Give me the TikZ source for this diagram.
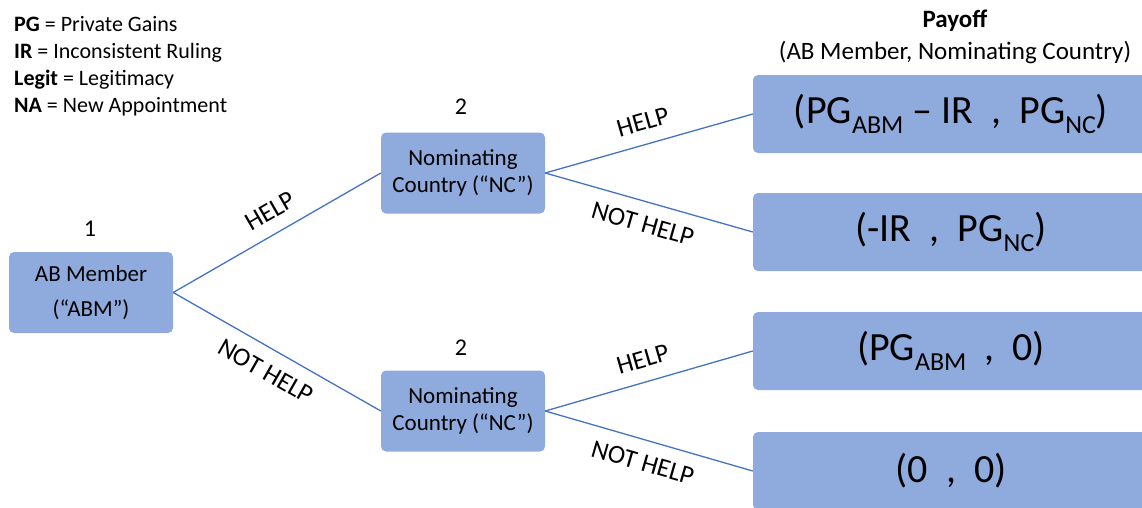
\documentclass[tikz,border=0pt]{standalone}
\usepackage{fontspec}
\setmainfont{Carlito}
\usepackage{tikz}
\usetikzlibrary{positioning,calc}
\definecolor{boxblue}{HTML}{8FAADC}
\definecolor{lineblue}{HTML}{4472C4}
\tikzstyle{player} = [rectangle, rounded corners=5pt, minimum width=164pt, minimum height=81pt, text centered, align=center, fill=boxblue, font=\fontsize{23}{27}\selectfont]
\tikzstyle{payoff} = [rectangle, rounded corners=5pt, minimum width=396pt, minimum height=78pt, text centered, fill=boxblue, font=\fontsize{40}{44}\selectfont]
\tikzstyle{branch} = [lineblue, line width=1.3pt]
\tikzstyle{move} = [sloped, text=black, font=\fontsize{26}{30}\selectfont]
\newcommand{\lowsub}[1]{\raisebox{-10pt}{\fontsize{26}{26}\selectfont #1}}

\begin{document}
\begin{tikzpicture}[x=1pt,y=-1pt]
				\clip (0,0) rectangle (1142,507);
				\node[anchor=north west, align=left, inner sep=0pt, font=\fontsize{22}{27}\selectfont] (legend) at (14,16) {
					\textbf{PG} = Private Gains\\
					\textbf{IR} = Inconsistent Ruling\\
					\textbf{Legit} = Legitimacy\\
					\textbf{NA} = New Appointment};
				\node[align=center, font=\fontsize{25}{32}\selectfont] (title) at (955,37) {\textbf{Payoff}\\(AB Member, Nominating Country)};
				
				\node[player] (abm) at (91,292.5) {AB Member\\[8pt](“ABM”)};
				\node[player] (nc1) at (463,173) {Nominating\\Country (“NC”)};
				\node[player] (nc2) at (463,411) {Nominating\\Country (“NC”)};
				\node[font=\fontsize{24}{28}\selectfont] (one) at (90,229) {1};
				\node[font=\fontsize{24}{28}\selectfont] (two1) at (461,107) {2};
				\node[font=\fontsize{24}{28}\selectfont] (two2) at (461,348) {2};
				
				\node[payoff] (p1) at (951,114) {(PG\lowsub{ABM} -- IR \ , \ PG\lowsub{NC})};
				\node[payoff] (p2) at (951,232) {(-IR \ , \ PG\lowsub{NC})};
				\node[payoff] (p3) at (951,351) {(PG\lowsub{ABM} \ , \ 0)};
				\node[payoff] (p4) at (951,471) {(0 \ , \ 0)};
				
				\draw[branch] (abm.east) -- node[move, pos=0.52, above=10pt] {HELP} (nc1.west);
				\draw[branch] (abm.east) -- node[move, pos=0.5, below=10pt] {NOT HELP} (nc2.west);
				\draw[branch] (nc1.east) -- node[move, pos=0.5, above=10pt] {HELP} (p1.west);
				\draw[branch] (nc1.east) -- node[move, pos=0.5, below=10pt] {NOT HELP} (p2.west);
				\draw[branch] (nc2.east) -- node[move, pos=0.5, above=10pt] {HELP} (p3.west);
				\draw[branch] (nc2.east) -- node[move, pos=0.5, below=10pt] {NOT HELP} (p4.west);
			\end{tikzpicture}
\end{document}
